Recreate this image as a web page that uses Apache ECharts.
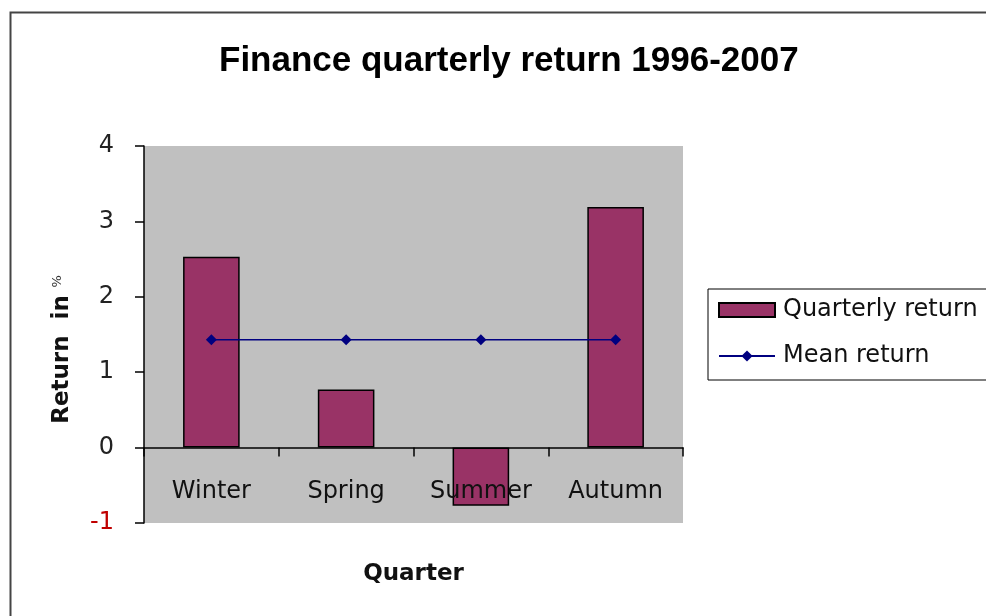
<!DOCTYPE html>
<html>
<head>
<meta charset="utf-8">
<script src="https://cdn.jsdelivr.net/npm/echarts@6/dist/echarts.min.js"></script>
<style>
  html, body { margin: 0; padding: 0; background: #fff; }
  #chart { width: 986px; height: 616px; }
</style>
</head>
<body>
<div id="chart"></div>
<script>
// data
var quarters = ['Winter', 'Spring', 'Summer', 'Autumn'];
var quarterlyReturn = [2.53, 0.77, -0.77, 3.19];
var meanReturn = [1.43, 1.43, 1.43, 1.43];
var yTicks = { min: -1, max: 4, step: 1 };

var chart = echarts.init(document.getElementById('chart'));
var titleFont = 'Liberation Sans, Arial, sans-serif';
var font = 'DejaVu Sans, sans-serif';

chart.setOption({
    animation: false,
    textStyle: { fontFamily: font },
    graphic: [{
        type: 'rect',
        shape: { x: 10.5, y: 12.5, width: 1000, height: 700 },
        style: { fill: 'none', stroke: '#444', lineWidth: 2 },
        z: 0
    }],
    title: {
        text: 'Finance quarterly return 1996-2007',
        left: 214,
        top: 39,
        textStyle: { fontSize: 35, fontWeight: 'bold', color: '#000', fontFamily: titleFont }
    },
    legend: {
        orient: 'vertical',
        left: 708,
        top: 289,
        padding: [8, 12, 11, 10],
        itemGap: 20,
        itemWidth: 56,
        itemHeight: 14,
        borderColor: '#000',
        borderWidth: 1,
        textStyle: { fontSize: 24, lineHeight: 26, color: '#111', fontFamily: font, padding: [0, 0, 0, 3] },
        data: [
            { name: 'Quarterly return', icon: 'rect' },
            { name: 'Mean return' }
        ]
    },
    grid: {
        left: 144,
        right: 303,
        top: 146,
        bottom: 93,
        outerBoundsMode: 'none',
        containLabel: false,
        show: true,
        backgroundColor: '#c0c0c0',
        borderWidth: 0
    },
    xAxis: {
        type: 'category',
        data: quarters,
        z: 5,
        name: 'Quarter',
        nameLocation: 'middle',
        nameGap: 40,
        nameTextStyle: { fontSize: 23, fontWeight: 'bold', color: '#111', fontFamily: font },
        axisLine: { onZero: true, lineStyle: { color: '#000', width: 1.5 } },
        axisTick: { show: true, length: 9, lineStyle: { color: '#000', width: 1.5 } },
        axisLabel: { fontSize: 24, color: '#111', margin: -43, fontFamily: font },
        splitLine: { show: false }
    },
    yAxis: {
        type: 'value',
        min: yTicks.min,
        max: yTicks.max,
        interval: yTicks.step,
        name: '{a|Return  in}  {b|%}',
        nameLocation: 'middle',
        nameRotate: 90,
        nameGap: 70,
        nameTextStyle: {
            padding: [0, 30, 0, 0],
            rich: {
                a: { fontSize: 23, fontWeight: 'bold', color: '#111', fontFamily: font },
                b: { fontSize: 13, color: '#333', fontFamily: font, padding: [0, 0, 10, 0] }
            }
        },
        axisLine: { show: true, lineStyle: { color: '#000', width: 1.5 } },
        axisTick: { show: true, length: 9, lineStyle: { color: '#000', width: 1.5 } },
        axisLabel: {
            fontSize: 24,
            margin: 30,
            fontFamily: font,
            color: function (v) { return v < 0 ? '#c00000' : '#222'; }
        },
        splitLine: { show: false }
    },
    series: [
        {
            name: 'Quarterly return',
            type: 'bar',
            data: quarterlyReturn,
            barWidth: '42%',
            itemStyle: { color: '#993366', borderColor: '#000', borderWidth: 1.5 }
        },
        {
            name: 'Mean return',
            type: 'line',
            data: meanReturn,
            symbol: 'diamond',
            symbolSize: 11,
            lineStyle: { color: '#000080', width: 1.5 },
            itemStyle: { color: '#000080' }
        }
    ]
});
</script>
</body>
</html>
